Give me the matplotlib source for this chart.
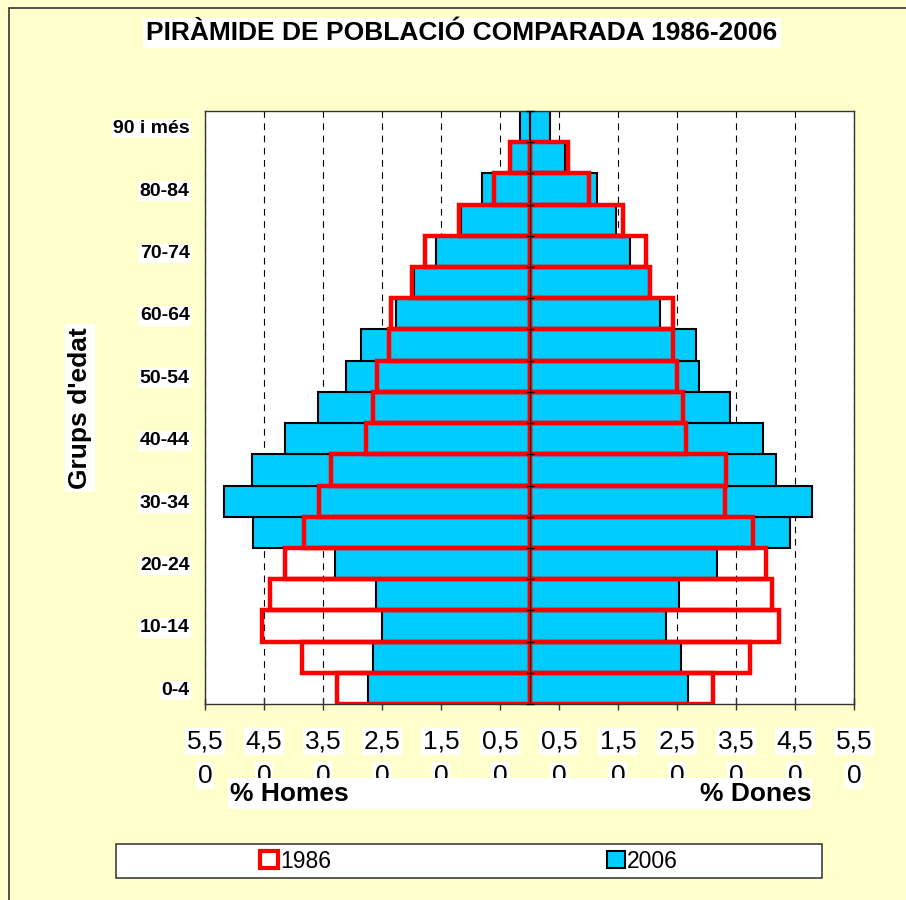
import numpy as np
import matplotlib
matplotlib.use("Agg")
import matplotlib.pyplot as plt
from matplotlib.patches import Rectangle, Patch

plt.rcParams['font.family'] = ['Liberation Sans', 'DejaVu Sans']

# age groups, bottom to top
groups = ['0-4', '5-9', '10-14', '15-19', '20-24', '25-29', '30-34', '35-39',
          '40-44', '45-49', '50-54', '55-59', '60-64', '65-69', '70-74',
          '75-79', '80-84', '85-89', '90 i més']

# % of population
homes_2006 = [2.74, 2.65, 2.50, 2.61, 3.29, 4.68, 5.17, 4.71, 4.14, 3.59,
              3.11, 2.85, 2.26, 1.95, 1.59, 1.16, 0.81, 0.31, 0.16]
dones_2006 = [2.68, 2.57, 2.32, 2.54, 3.18, 4.41, 4.79, 4.18, 3.96, 3.40,
              2.88, 2.82, 2.22, 2.03, 1.70, 1.46, 1.14, 0.61, 0.35]
homes_1986 = [3.26, 3.86, 4.53, 4.40, 4.14, 3.83, 3.57, 3.37, 2.77, 2.66,
              2.58, 2.38, 2.34, 1.99, 1.77, 1.20, 0.60, 0.33, np.nan]
dones_1986 = [3.11, 3.73, 4.23, 4.11, 4.01, 3.79, 3.31, 3.33, 2.66, 2.61,
              2.50, 2.43, 2.44, 2.04, 1.97, 1.58, 1.01, 0.66, np.nan]

xticks = np.arange(-5.5, 5.6, 1.0)
xticklabels = [f"{abs(v):.2f}".replace('.', ',') for v in xticks]

BLUE = '#00CCFF'
RED = '#FF0000'
BG = '#FFFFCC'
W, H = 906, 900

fig = plt.figure(figsize=(W / 100, H / 100), dpi=100, facecolor=BG)
ax = fig.add_axes([205 / W, 1 - 704 / H, 649 / W, 593 / H])
ax.set_facecolor('white')

y = np.arange(len(groups))
h06 = np.array(homes_2006)
d06 = np.array(dones_2006)
h86 = np.array(homes_1986)
d86 = np.array(dones_1986)

ax.barh(y, -h06, height=1.0, color=BLUE, edgecolor='black', lw=1.5, zorder=2)
ax.barh(y, d06, height=1.0, color=BLUE, edgecolor='black', lw=1.5, zorder=2)
m = ~np.isnan(h86)
ax.barh(y[m], -h86[m], height=1.0, facecolor='none', edgecolor=RED, lw=3.2, zorder=3)
m = ~np.isnan(d86)
ax.barh(y[m], d86[m], height=1.0, facecolor='none', edgecolor=RED, lw=3.2, zorder=3)

ax.set_xlim(-5.5, 5.5)
ax.set_ylim(-0.5, len(groups) - 0.5)
ax.set_axisbelow(True)
ax.grid(axis='x', color='black', linestyle=(0, (6, 5)), lw=0.8)

# x ticks: Excel wraps "5,50" over two lines
ax.set_xticks(xticks)
ax.set_xticklabels([s[:-1] for s in xticklabels])
ax.tick_params(axis='x', direction='inout', length=9, width=1, color='#333333',
               labelsize=19, pad=14)
for lab in ax.get_xticklabels():
    lab.set_bbox(dict(facecolor='white', edgecolor='none', pad=1))
for v, s in zip(xticks, xticklabels):
    ax.text(v, -0.121, s[-1], transform=ax.get_xaxis_transform(), ha='center',
            va='center', fontsize=19, clip_on=False,
            bbox=dict(facecolor='white', edgecolor='none', pad=1))

ax.set_yticks(y[::2])
ax.set_yticklabels(groups[::2], fontsize=14, fontweight='bold')
ax.tick_params(axis='y', length=0, pad=11)
for lab in ax.get_yticklabels():
    lab.set_bbox(dict(facecolor='white', edgecolor='none', pad=1))

for s in ax.spines.values():
    s.set_color('#333333')
    s.set_linewidth(1)

# central axis with category ticks
sec = ax.secondary_yaxis(0.5)
sec.set_yticks(np.arange(len(groups) + 1) - 0.5)
sec.set_yticklabels([])
sec.tick_params(direction='inout', length=6, width=1, color='black')
sec.spines['left'].set_color('black')
sec.spines['left'].set_linewidth(1.6)
sec.patch.set_visible(False)
sec.set_zorder(10)

# chart border
fig.add_artist(Rectangle((9 / W, -0.1), 1.2, 1 - 8 / H + 0.1, transform=fig.transFigure,
                         facecolor='none', edgecolor='#333333', lw=1.2, zorder=0))

fig.text(462 / W, 1 - 33 / H, 'PIRÀMIDE DE POBLACIÓ COMPARADA 1986-2006',
         ha='center', va='center', fontsize=19, fontweight='bold',
         bbox=dict(facecolor='white', edgecolor='none', pad=2))
fig.text(80 / W, 1 - 408 / H, "Grups d'edat", rotation=90, ha='center', va='center',
         fontsize=19, fontweight='bold',
         bbox=dict(facecolor='white', edgecolor='none', pad=2))

# axis title strip
fig.add_artist(Rectangle((228 / W, 1 - 809 / H), 584 / W, 31 / H, transform=fig.transFigure,
                         facecolor='white', edgecolor='none', zorder=2))
fig.text(230 / W, 1 - 794 / H, '% Homes', ha='left', va='center', fontsize=19,
         fontweight='bold', zorder=3)
fig.text(812 / W, 1 - 794 / H, '% Dones', ha='right', va='center', fontsize=19,
         fontweight='bold', zorder=3)

# legend
fig.add_artist(Rectangle((116 / W, 1 - 878 / H), 706 / W, 34 / H, transform=fig.transFigure,
                         facecolor='white', edgecolor='#404040', lw=1.2, zorder=2))
handles = [Patch(facecolor='white', edgecolor=RED, lw=3),
           Patch(facecolor=BLUE, edgecolor='black', lw=1.5)]
leg = fig.legend(handles, ['1986', '2006'], loc='center',
                 bbox_to_anchor=(469 / W, 1 - 861 / H), ncol=2, frameon=False,
                 fontsize=16.5, columnspacing=12, handlelength=0.8, handleheight=0.8,
                 handletextpad=0.1)
leg.set_zorder(5)

fig.savefig('out.png', dpi=100, facecolor=BG)
